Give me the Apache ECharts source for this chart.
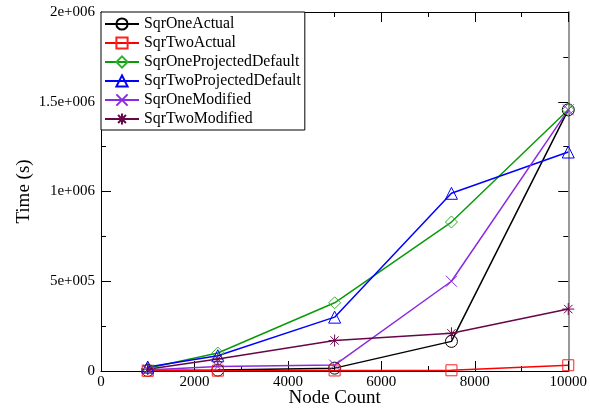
<!DOCTYPE html>
<html>
<head>
<meta charset="utf-8">
<script src="https://cdn.jsdelivr.net/npm/echarts@6/dist/echarts.min.js"></script>
<style>
html,body{margin:0;padding:0;background:#fff;overflow:hidden;}
#chart{width:590px;height:414px;}
</style>
</head>
<body>
<div id="chart"></div>
<script>
const nodeCounts = [1000, 2500, 5000, 7500, 10000];
const sqrOneActual = [3000, 5000, 16000, 165000, 1455000];
const sqrTwoActual = [1000, 2000, 3000, 4000, 32000];
const sqrOneProjectedDefault = [15000, 100000, 380000, 830000, 1455000];
const sqrTwoProjectedDefault = [22000, 85000, 300000, 990000, 1220000];
const sqrOneModified = [5000, 25000, 33000, 500000, 1455000];
const sqrTwoModified = [10000, 67000, 170000, 210000, 345000];
const seriesNames = ['SqrOneActual','SqrTwoActual','SqrOneProjectedDefault','SqrTwoProjectedDefault','SqrOneModified','SqrTwoModified'];
const yTickValues = [0, 500000, 1000000, 1500000, 2000000];
const yTickLabels = ['0', '5e+005', '1e+006', '1.5e+006', '2e+006'];
const xTickValues = [0, 2000, 4000, 6000, 8000, 10000];
const xTickLabels = ['0', '2000', '4000', '6000', '8000', '10000'];

const FONT = 'Liberation Serif';
const X_SYM = 'path://M0,0L10,10M10,0L0,10';
const STAR_SYM = 'path://M5,0L5,10M0,5L10,5M1.5,1.5L8.5,8.5M8.5,1.5L1.5,8.5';

const styles = [
  {line:'#000000', sym:'#000000', symbol:'circle', size:12},
  {line:'#ff0000', sym:'#ff2020', symbol:'rect', size:11},
  {line:'#0a9a0a', sym:'#30b030', symbol:'diamond', size:12},
  {line:'#0000ff', sym:'#0000ff', symbol:'triangle', size:12},
  {line:'#8a2be2', sym:'#8a2be2', symbol:X_SYM, size:11},
  {line:'#670748', sym:'#670748', symbol:STAR_SYM, size:12}
];
const dataSets = [sqrOneActual, sqrTwoActual, sqrOneProjectedDefault, sqrTwoProjectedDefault, sqrOneModified, sqrTwoModified];

const series = seriesNames.map((name, i) => ({
  name: name,
  type: 'line',
  xAxisIndex: 0,
  yAxisIndex: 0,
  data: nodeCounts.map((x, j) => [x, dataSets[i][j]]),
  symbol: styles[i].symbol,
  symbolSize: styles[i].size,
  showAllSymbol: true,
  lineStyle: {color: styles[i].line, width: 1.5},
  itemStyle: {color: 'rgba(0,0,0,0)', borderColor: styles[i].sym, borderWidth: 1},
  emphasis: {disabled: true},
  animation: false,
  z: 2
}));

const axisCommon = {
  axisLine: {show: true, onZero: false, lineStyle: {color: '#000', width: 1}},
  splitLine: {show: false},
  axisTick: {show: true, inside: true, length: 10, lineStyle: {color: '#000'}},
  minorTick: {show: true, splitNumber: 2, length: 5, lineStyle: {color: '#000'}},
  minorSplitLine: {show: false}
};

const chart = echarts.init(document.getElementById('chart'), null, {renderer: 'canvas', width: 590, height: 414});
chart.setOption({
  backgroundColor: '#fff',
  animation: false,
  grid: {left: 101, top: 12, width: 470, height: 359, containLabel: false},
  legend: {
    data: seriesNames,
    orient: 'vertical',
    left: 101,
    top: 12,
    backgroundColor: '#fff',
    borderColor: '#000',
    borderWidth: 1,
    borderRadius: 0,
    padding: [4, 4, 3, 3],
    itemGap: 3,
    itemWidth: 34,
    itemHeight: 14,
    textStyle: {fontFamily: FONT, fontSize: 15.8, color: '#000', lineHeight: 14},
    selectedMode: false,
    z: 5
  },
  xAxis: [
    Object.assign({}, axisCommon, {
      type: 'value', position: 'bottom', min: 0, max: 10000, interval: 2000,
      name: 'Node Count', nameLocation: 'middle', nameGap: 18, nameMoveOverlap: false,
      nameTextStyle: {fontFamily: FONT, fontSize: 19, color: '#000', verticalAlign: 'top'},
      axisLabel: {fontFamily: FONT, fontSize: 15, color: '#000', margin: 4,
        formatter: v => { const k = xTickValues.indexOf(v); return k >= 0 ? xTickLabels[k] : ''; }}
    }),
    Object.assign({}, axisCommon, {
      type: 'value', position: 'top', min: 0, max: 10000, interval: 2000,
      axisLabel: {show: false}
    })
  ],
  yAxis: [
    Object.assign({}, axisCommon, {
      type: 'value', position: 'left', min: 0, max: 2000000, interval: 500000,
      name: 'Time (s)', nameLocation: 'middle', nameGap: 67, nameRotate: 90, nameMoveOverlap: false,
      nameTextStyle: {fontFamily: FONT, fontSize: 19, color: '#000'},
      axisLabel: {fontFamily: FONT, fontSize: 15, color: '#000', margin: 6,
        formatter: v => { const k = yTickValues.indexOf(v); return k >= 0 ? yTickLabels[k] : ''; }}
    }),
    Object.assign({}, axisCommon, {
      type: 'value', position: 'right', min: 0, max: 2000000, interval: 500000,
      axisLine: {show: true, onZero: false, lineStyle: {color: '#999', width: 2}},
      axisLabel: {show: false}
    })
  ],
  series: series
});
</script>
</body>
</html>
